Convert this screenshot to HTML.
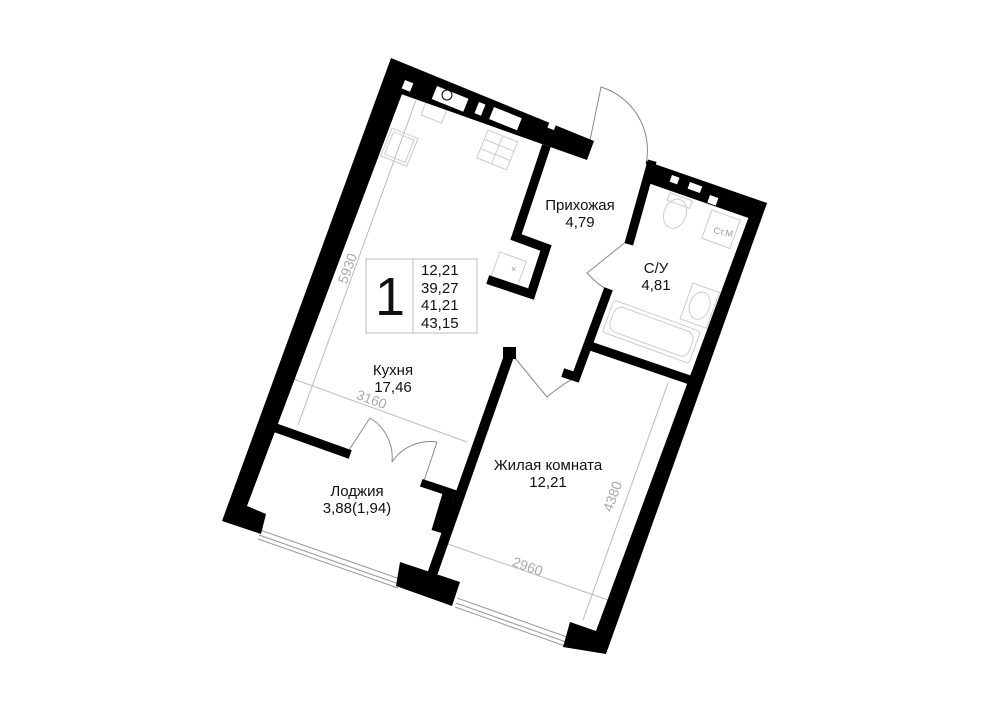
<!DOCTYPE html>
<html><head><meta charset="utf-8"><style>
html,body{margin:0;padding:0;background:#fff;}
svg{display:block;}
text{font-family:"Liberation Sans",sans-serif;fill:#111;}
</style></head><body>
<svg width="1000" height="707" viewBox="0 0 1000 707" xmlns="http://www.w3.org/2000/svg">
<rect width="1000" height="707" fill="#fff"/>

<!-- dimension lines -->
<g stroke="#bbb" stroke-width="1" fill="none">
<line x1="416" y1="100" x2="298" y2="425"/>
<line x1="277" y1="373" x2="467" y2="442"/>
<line x1="445" y1="543" x2="608" y2="600"/>
<line x1="668" y1="383" x2="583" y2="620"/>
</g>
<g font-size="14">
<text x="0" y="0" transform="translate(352,270) rotate(-70)" text-anchor="middle" style="fill:#aaa">5930</text>
<text x="0" y="0" transform="translate(370,404) rotate(20)" text-anchor="middle" style="fill:#aaa">3160</text>
<text x="0" y="0" transform="translate(526,571) rotate(20)" text-anchor="middle" style="fill:#aaa">2960</text>
<text x="0" y="0" transform="translate(617,498) rotate(-70)" text-anchor="middle" style="fill:#aaa">4380</text>
</g>

<!-- fixtures -->
<g stroke="#ccc" stroke-width="1" fill="none">
<g transform="translate(392,128) rotate(22)"><rect x="0" y="0" width="28" height="30"/><rect x="3" y="3" width="22" height="24"/></g>
<g transform="translate(488,130) rotate(22)"><rect x="0" y="0" width="32" height="30"/><line x1="16" y1="0" x2="16" y2="30"/><line x1="0" y1="10" x2="32" y2="10"/><line x1="0" y1="20" x2="32" y2="20"/></g>
<g transform="translate(427,100) rotate(22)"><rect x="0" y="0" width="22" height="16"/></g>
<g transform="translate(500,252) rotate(20)"><rect x="0" y="0" width="28" height="30"/></g>
<g transform="translate(614,300) rotate(20)"><rect x="0" y="0" width="92" height="34" rx="3"/><rect x="4" y="4" width="84" height="26" rx="8"/></g>
<g transform="translate(668,192) rotate(20)"><ellipse cx="14" cy="18" rx="11" ry="15"/><rect x="2" y="0" width="24" height="8"/></g>
<g transform="translate(712,210) rotate(20)"><rect x="0" y="0" width="30" height="30"/></g>
<g transform="translate(693,283) rotate(20)"><rect x="0" y="0" width="28" height="38"/><ellipse cx="14" cy="19" rx="10" ry="14"/></g>
</g>
<text x="0" y="0" transform="translate(713,233) rotate(12)" font-size="9" style="fill:#999">Ст.М</text>
<text x="511" y="272" font-size="9" style="fill:#999">×</text>

<!-- windows -->
<g stroke="#999" stroke-width="1">
<line x1="260" y1="530" x2="400" y2="579"/>
<line x1="259" y1="535" x2="399" y2="584"/>
<line x1="258" y1="539" x2="398" y2="588"/>
<line x1="457" y1="598" x2="567" y2="637"/>
<line x1="456" y1="603" x2="566" y2="642"/>
<line x1="455" y1="607" x2="565" y2="646"/>
</g>

<!-- doors -->
<g stroke="#888" stroke-width="1" fill="none">
<path d="M588,150 L601,87 A66,66 0 0 1 646,164"/>
<path d="M627,241 L587,273 Q598,285 608,290"/>
<path d="M515,358 L547,397 Q560,386 574,378"/>
<path d="M347,453 L370,418 A46,46 0 0 1 392,462"/>
<path d="M437,442 L423,484"/>
<path d="M437,442 A46,46 0 0 0 392,462"/>
</g>

<!-- walls -->
<g fill="#000" stroke="none">
<polygon points="391,58 222,521 261,534 266,514 247,506 411,70"/>
<polygon points="391,58 594,141 587,160 401,94"/>
<polygon points="646,161 767,203 760,222 648,183"/>
<polygon points="767,203 606,654 563,647 570,622 596,631 752,208"/>
<polygon points="400,562 460,582 452,606 396,586"/>
</g>
<g stroke="#000" fill="none" stroke-linecap="square" stroke-linejoin="miter">
<polyline points="545,150 516,237 546,248 531,294 492,281" stroke-width="9"/>
<line x1="651" y1="165" x2="630" y2="240" stroke-width="9"/>
<polyline points="607,293 576,377 567,374" stroke-width="9"/>
<line x1="596" y1="348" x2="693" y2="381" stroke-width="9"/>
<line x1="510" y1="353" x2="433" y2="572" stroke-width="10"/>
<line x1="448" y1="496" x2="439" y2="526" stroke-width="12"/>
<line x1="425" y1="484" x2="452" y2="493" stroke-width="8"/>
<line x1="276" y1="428" x2="346" y2="453" stroke-width="9"/>
</g>
<rect x="503" y="347" width="13" height="12" fill="#000"/>

<!-- wall openings (white) -->
<g fill="#fff" stroke="none">
<g transform="translate(405,80) rotate(22)"><rect width="9" height="9"/></g>
<g transform="translate(437,86) rotate(22)"><rect width="34" height="14"/></g>
<g transform="translate(479,102) rotate(22)"><rect width="7" height="12"/></g>
<g transform="translate(494,107) rotate(22)"><rect width="30" height="13"/></g>
<g transform="translate(550,121) rotate(22)"><rect width="7" height="7"/></g>
<g transform="translate(672,175) rotate(20)"><rect width="8" height="7"/></g>
<g transform="translate(690,182) rotate(20)"><rect width="13" height="7"/></g>
<g transform="translate(710,195) rotate(20)"><rect width="9" height="8"/></g>
</g>
<g stroke="#000" stroke-width="1" fill="none">
<circle cx="447" cy="95" r="5"/>
</g>

<!-- info box -->
<rect x="366" y="259" width="111" height="74" fill="#fff" stroke="#bbb" stroke-width="1"/>
<line x1="413" y1="259" x2="413" y2="333" stroke="#bbb" stroke-width="1"/>
<text x="390" y="315" font-size="54" text-anchor="middle">1</text>
<g font-size="15">
<text x="421" y="275">12,21</text>
<text x="421" y="293">39,27</text>
<text x="421" y="310">41,21</text>
<text x="421" y="328">43,15</text>
</g>

<!-- room labels -->
<g font-size="15" text-anchor="middle">
<text x="580" y="210">Прихожая</text>
<text x="580" y="227">4,79</text>
<text x="656" y="273">С/У</text>
<text x="656" y="290">4,81</text>
<text x="393" y="375">Кухня</text>
<text x="393" y="392">17,46</text>
<text x="548" y="470">Жилая комната</text>
<text x="548" y="487">12,21</text>
<text x="357" y="496">Лоджия</text>
<text x="357" y="513">3,88(1,94)</text>
</g>
</svg>
</body></html>
